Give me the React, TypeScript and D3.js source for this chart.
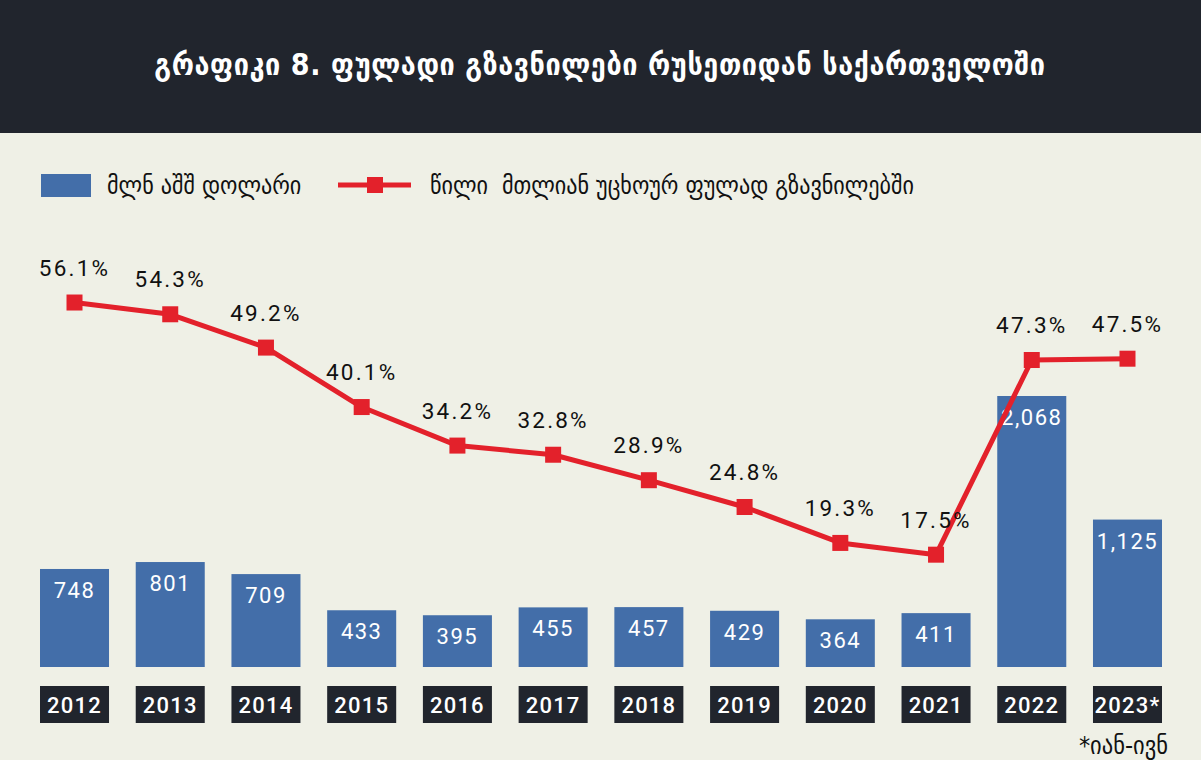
import React from "react";
import * as d3 from "d3";

const years = ["2012","2013","2014","2015","2016","2017","2018","2019","2020","2021","2022","2023*"];
const remittances = [748, 801, 709, 433, 395, 455, 457, 429, 364, 411, 2068, 1125];
const shares = [56.1, 54.3, 49.2, 40.1, 34.2, 32.8, 28.9, 24.8, 19.3, 17.5, 47.3, 47.5];
const title = "გრაფიკი 8. ფულადი გზავნილები რუსეთიდან საქართველოში";
const legendBar = "მლნ აშშ დოლარი";
const legendLine = "წილი  მთლიან უცხოურ ფულად გზავნილებში";
const footnote = "*იან-ივნ";

const W = 1201, H = 760;
const BG = "#eff0e6";
const DARK = "#21252d";
const BLUE = "#436ea9";
const RED = "#e3212b";
const GEO = "'DejaVu Sans Condensed', 'DejaVu Sans', sans-serif";
const NUM = "Roboto, 'DejaVu Sans', sans-serif";

export default function App() {
  const x = d3.scaleBand<string>().domain(years).range([40, 1162]).paddingInner(0.279).paddingOuter(0);
  const yBar = d3.scaleLinear().domain([0, 2068]).range([667, 396]);
  const yPct = d3.scaleLinear().domain([0, 47.5]).range([669, 358.7]);
  const bw = x.bandwidth();
  const cx = (y: string) => (x(y) as number) + bw / 2;
  const line = d3.line<number>().x((_, i) => cx(years[i])).y((d) => yPct(d));
  const fmt = d3.format(",");

  return (
    <svg width={W} height={H} style={{ position: "absolute", left: 0, top: 0, display: "block" }}>
      <rect x={0} y={0} width={W} height={H} fill={BG} />
      <rect x={0} y={0} width={W} height={133} fill={DARK} />
      <text x={600} y={75} textAnchor="middle" fill="#ffffff" fontFamily={GEO} fontWeight="bold" fontSize={30} letterSpacing={0.6}>{title}</text>

      {/* legend */}
      <rect x={41} y={174} width={50} height={23} fill={BLUE} />
      <text x={107} y={194} fill="#111" fontFamily={GEO} fontSize={24.6}>{legendBar}</text>
      <line x1={338} x2={411} y1={185} y2={185} stroke={RED} strokeWidth={5} />
      <rect x={367} y={177} width={16} height={16} fill={RED} />
      <text x={430} y={194} fill="#111" fontFamily={GEO} fontSize={24.6} style={{ whiteSpace: "pre" }}>{legendLine}</text>

      {/* bars */}
      {remittances.map((v, i) => (
        <g key={years[i]}>
          <rect x={x(years[i])} y={yBar(v)} width={bw} height={yBar(0) - yBar(v)} fill={BLUE} />
          <text x={cx(years[i])} y={yBar(v) + 29} textAnchor="middle" fill="#fff" fontFamily={NUM} fontSize={22} letterSpacing={1.5}>{fmt(v)}</text>
        </g>
      ))}

      {/* year boxes */}
      {years.map((yr) => (
        <g key={"yr" + yr}>
          <rect x={x(yr)} y={686} width={bw} height={37} fill={DARK} />
          <text x={cx(yr)} y={713} textAnchor="middle" fill="#fff" fontFamily={NUM} fontWeight={500} fontSize={22} letterSpacing={1.2}>{yr}</text>
        </g>
      ))}

      {/* line */}
      <path d={line(shares) || ""} fill="none" stroke={RED} strokeWidth={5} strokeLinejoin="round" />
      {shares.map((v, i) => (
        <g key={"m" + i}>
          <rect x={cx(years[i]) - 8} y={yPct(v) - 8} width={16} height={16} fill={RED} />
          <text x={cx(years[i])} y={yPct(v) - 27} textAnchor="middle" fill="#111" fontFamily={NUM} fontSize={22.5} letterSpacing={2.2}>{v.toFixed(1) + "%"}</text>
        </g>
      ))}

      <text x={1168} y={754} textAnchor="end" fill="#111" fontFamily={GEO} fontSize={25}>{footnote}</text>
    </svg>
  );
}
